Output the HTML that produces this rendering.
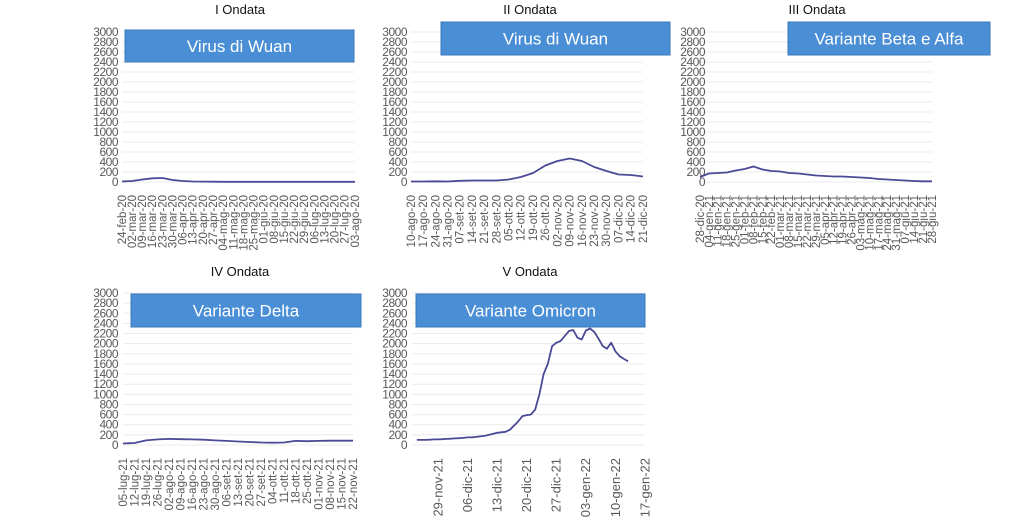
<!DOCTYPE html>
<html><head><meta charset="utf-8">
<style>
body{margin:0;background:#fff;width:1024px;height:529px;overflow:hidden;font-family:"Liberation Sans",sans-serif}
svg{position:absolute;left:0;top:0}
</style></head>
<body>
<svg id="c" width="1024" height="529"></svg>
<script>
const yTicks=[0,200,400,600,800,1000,1200,1400,1600,1800,2000,2200,2400,2600,2800,3000];
const labelsI=["24-feb-20","02-mar-20","09-mar-20","16-mar-20","23-mar-20","30-mar-20","06-apr-20","13-apr-20","20-apr-20","27-apr-20","04-mag-20","11-mag-20","18-mag-20","25-mag-20","01-giu-20","08-giu-20","15-giu-20","22-giu-20","29-giu-20","06-lug-20","13-lug-20","20-lug-20","27-lug-20","03-ago-20"];
const valuesI=[10,20,50,75,80,40,20,10,8,6,5,5,5,5,5,5,5,5,5,5,5,5,5,5];
const labelsII=["10-ago-20","17-ago-20","24-ago-20","31-ago-20","07-set-20","14-set-20","21-set-20","28-set-20","05-ott-20","12-ott-20","19-ott-20","26-ott-20","02-nov-20","09-nov-20","16-nov-20","23-nov-20","30-nov-20","07-dic-20","14-dic-20","21-dic-20"];
const valuesII=[10,10,15,10,25,30,30,30,50,100,180,330,420,470,420,300,220,150,140,110];
const labelsIII=["28-dic-20","04-gen-21","11-gen-21","18-gen-21","25-gen-21","01-feb-21","08-feb-21","15-feb-21","22-feb-21","01-mar-21","08-mar-21","15-mar-21","22-mar-21","29-mar-21","05-apr-21","12-apr-21","19-apr-21","26-apr-21","03-mag-21","10-mag-21","17-mag-21","24-mag-21","31-mag-21","07-giu-21","14-giu-21","21-giu-21","28-giu-21"];
const valuesIII=[100,170,180,190,230,260,310,250,220,210,180,170,150,130,120,110,110,100,90,80,60,50,40,30,20,15,15];
const labelsIV=["05-lug-21","12-lug-21","19-lug-21","26-lug-21","02-ago-21","09-ago-21","16-ago-21","23-ago-21","30-ago-21","06-set-21","13-set-21","20-set-21","27-set-21","04-ott-21","11-ott-21","18-ott-21","25-ott-21","01-nov-21","08-nov-21","15-nov-21","22-nov-21"];
const valuesIV=[30,40,90,110,120,115,110,105,90,80,70,60,50,45,50,80,75,80,85,85,85];
const labelsV=["29-nov-21","06-dic-21","13-dic-21","20-dic-21","27-dic-21","03-gen-22","10-gen-22","17-gen-22"];
const tickDaysV=[5,12,19,26,33,40,47,54];
const valuesV=[100,100,100,105,110,110,115,120,125,130,135,140,150,150,160,170,180,200,220,240,250,260,300,380,470,570,590,600,700,1000,1400,1600,1950,2020,2050,2150,2250,2270,2120,2080,2260,2300,2230,2100,1950,1900,2020,1850,1750,1700,1650];
const titles=["I Ondata","II Ondata","III Ondata","IV Ondata","V Ondata"];
const banners=["Virus di Wuan","Virus di Wuan","Variante Beta e Alfa","Variante Delta","Variante Omicron"];

const NS="http://www.w3.org/2000/svg";
const svg=document.getElementById('c');
function mk(tag,attrs,parent,txt){const e=document.createElementNS(NS,tag);for(const k in attrs)e.setAttribute(k,attrs[k]);if(txt!==undefined)e.textContent=txt;(parent||svg).appendChild(e);return e;}

const panels=[
 {x0:122,x1:355,y0:182,y1:32,labelR:118,tx:240,ty:14,bx:125,by:30,bw:229,bh:32,labels:labelsI,values:valuesI,fs:11.5},
 {x0:411,x1:643,y0:182,y1:32,labelR:407,tx:530,ty:14,bx:441,by:22,bw:229,bh:33,labels:labelsII,values:valuesII,fs:11.5},
 {x0:700,x1:932,y0:182,y1:32,labelR:705,tx:817,ty:14,bx:788,by:22,bw:202,bh:33,labels:labelsIII,values:valuesIII,fs:11.5},
 {x0:123,x1:353,y0:445,y1:293,labelR:118,tx:240,ty:276,bx:131,by:294,bw:230,bh:33,labels:labelsIV,values:valuesIV,fs:11.5},
 {x0:412,x1:645,y0:445,y1:293,labelR:407,tx:530,ty:276,bx:416,by:294,bw:229,bh:33,labels:labelsV,values:valuesV,daily:true,fs:13}
];

panels.forEach((p,pi)=>{
  const g=mk('g',{});
  
  
  const ys=v=>p.y0+(p.y1-p.y0)*v/3000;
  let xs;
  if(p.daily){xs=d=>438+(d-5)*(645-438)/49;}
  else{const n=p.labels.length;xs=i=>p.x0+(p.x1-p.x0)*i/(n-1);}
  yTicks.forEach(t=>{
    const gl=mk('line',{x1:p.x0,x2:p.x1,y1:ys(t),y2:ys(t),stroke:'#ebebeb','stroke-width':1},g);
    
    
    const tl=mk('text',{x:p.labelR,y:ys(t)+4,'text-anchor':'end','font-size':12,fill:'#595959','letter-spacing':'-0.5'},g,String(t));
    
    
  });
  const tickPos=p.daily?tickDaysV.map(xs):p.labels.map((l,i)=>xs(i));
  const ly=p.y0+13;
  p.labels.forEach((l,i)=>{
    const x=tickPos[i];
    const t=mk('text',{x:0,y:0,transform:`translate(${x+p.fs/3},${ly}) rotate(-90)`,'text-anchor':'end','font-size':p.fs,fill:'#595959'},g,l);
    
    
  });
  const pts=p.values.map((v,i)=>xs(i).toFixed(1)+','+ys(v).toFixed(1)).join(' ');
  const line=mk('polyline',{points:pts,fill:'none',stroke:'#4a4a96','stroke-width':1.8,'stroke-linejoin':'round'},g);
  
  
  const tt=mk('text',{x:p.tx,y:p.ty,'text-anchor':'middle','font-size':13,fill:'#111'},g,titles[pi]);
  
  
  const b=mk('rect',{x:p.bx,y:p.by,width:p.bw,height:p.bh,fill:'#4a8ed6',stroke:'#3a78bb','stroke-width':1},g);
  
  
  const bt=mk('text',{x:p.bx+p.bw/2,y:p.by+p.bh/2+6,'text-anchor':'middle','font-size':17,fill:'#fff'},g,banners[pi]);
  
  
});
</script>
</body></html>
